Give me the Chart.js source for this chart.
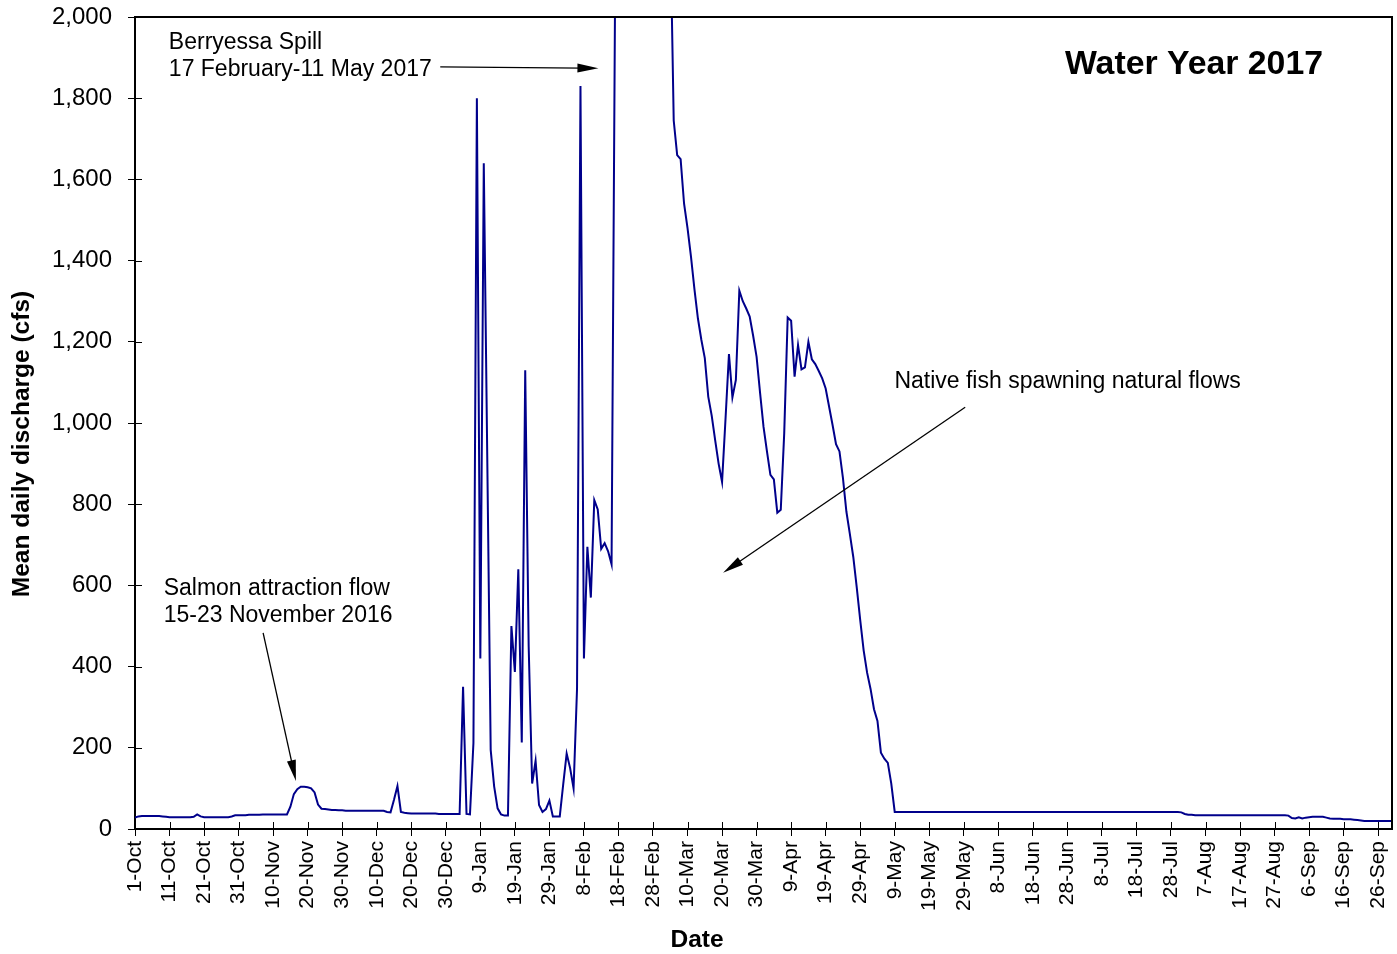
<!DOCTYPE html>
<html>
<head>
<meta charset="utf-8">
<title>Water Year 2017</title>
<script src="https://cdn.jsdelivr.net/npm/chart.js@4.4.1/dist/chart.umd.min.js"></script>
<style>
  html, body { margin: 0; padding: 0; background: #fff; }
  #wrap { width: 1397px; height: 954px; }
</style>
</head>
<body>
<div id="wrap"><canvas id="flowChart" width="1397" height="954"></canvas></div>
<script>
// Mean daily discharge (cfs), one value per day, water year 2017 (1 Oct 2016 - 30 Sep 2017)
// Values above 2,000 run off the top of the chart during the Berryessa spill.
const octFlow = [28, 31, 32, 32, 32, 32, 32, 32, 31, 30, 29, 29, 29, 29, 29, 29, 29, 30, 36, 31,
                 29, 29, 29, 29, 29, 29, 29, 29, 31, 34, 34];
const novFlow = [34, 34, 35, 35, 35, 35, 36, 36, 36, 36, 36, 36, 36, 36, 55, 86, 98, 104, 104, 103,
                 100, 90, 60, 50, 49, 48, 47, 47, 46, 46];
const decFlow = [45, 45, 45, 45, 45, 45, 45, 45, 45, 45, 45, 45, 42, 41, 72, 106, 42, 40, 39, 38,
                 38, 38, 38, 38, 38, 38, 38, 37, 37, 37, 37];
const janFlow = [37, 37, 37, 350, 37, 36, 211, 1800, 420, 1640, 920, 195, 105, 51, 36, 33, 33, 500, 387, 640,
                 213, 1130, 450, 112, 168, 59, 42, 49, 70, 31, 31];
const febFlow = [31, 110, 186, 150, 100, 345, 1830, 420, 695, 570, 810, 787, 690, 704, 684, 652, 2030, 4800, 9200, 14500,
                 17800, 19500, 16200, 12800, 10400, 8100, 6900, 5600];
const marFlow = [4700, 3900, 3200, 2700, 2230, 1745, 1660, 1650, 1540, 1480, 1410, 1330, 1258, 1205, 1160, 1065, 1018, 958, 900, 855,
                 1010, 1170, 1063, 1106, 1326, 1300, 1282, 1262, 1215, 1163, 1075];
const aprFlow = [991, 930, 872, 861, 779, 786, 975, 1260, 1252, 1114, 1192, 1132, 1137, 1200, 1157, 1145, 1128, 1110, 1085, 1040,
                 995, 948, 930, 865, 782, 727, 670, 595, 515, 440];
const mayFlow = [385, 345, 295, 266, 188, 173, 163, 112, 42, 42, 42, 42, 42, 42, 42, 42, 42, 42, 42, 42,
                 42, 42, 42, 42, 42, 42, 42, 42, 42, 42, 42];
const junFlow = [42, 42, 42, 42, 42, 42, 42, 42, 42, 42, 42, 42, 42, 42, 42, 42, 42, 42, 42, 42,
                 42, 42, 42, 42, 42, 42, 42, 42, 42, 42];
const julFlow = [42, 42, 42, 42, 42, 42, 42, 42, 42, 42, 42, 42, 42, 42, 42, 42, 42, 42, 42, 42,
                 42, 42, 42, 42, 42, 42, 42, 42, 42, 42, 41];
const augFlow = [37, 35, 35, 34, 34, 34, 34, 34, 34, 34, 34, 34, 34, 34, 34, 34, 34, 34, 34, 34,
                 34, 34, 34, 34, 34, 34, 34, 34, 34, 34, 33];
const sepFlow = [27, 26, 29, 26, 28, 29, 30, 30, 30, 30, 28, 26, 25, 25, 25, 24, 24, 24, 23, 22,
                 21, 20, 20, 20, 20, 20, 20, 20, 20, 20];

const flow = [].concat(octFlow, novFlow, decFlow, janFlow, febFlow, marFlow,
                       aprFlow, mayFlow, junFlow, julFlow, augFlow, sepFlow);

// x ticks every 10 days from 1 Oct
const tickDays = [0, 10, 20, 30, 40, 50, 60, 70, 80, 90, 100, 110, 120, 130, 140, 150, 160, 170, 180,
                  190, 200, 210, 220, 230, 240, 250, 260, 270, 280, 290, 300, 310, 320, 330, 340, 350, 360];
const tickLabels = ['1-Oct', '11-Oct', '21-Oct', '31-Oct', '10-Nov', '20-Nov', '30-Nov', '10-Dec', '20-Dec',
                    '30-Dec', '9-Jan', '19-Jan', '29-Jan', '8-Feb', '18-Feb', '28-Feb', '10-Mar', '20-Mar',
                    '30-Mar', '9-Apr', '19-Apr', '29-Apr', '9-May', '19-May', '29-May', '8-Jun', '18-Jun',
                    '28-Jun', '8-Jul', '18-Jul', '28-Jul', '7-Aug', '17-Aug', '27-Aug', '6-Sep', '16-Sep', '26-Sep'];
const yTicks = [0, 200, 400, 600, 800, 1000, 1200, 1400, 1600, 1800, 2000];

const FONT = '"Liberation Sans", Arial, Helvetica, sans-serif';
Chart.defaults.font.family = FONT;
Chart.defaults.color = '#000';

// annotation anchors are given in chart units (day, cfs)
const notes = [
    { lines: ['Berryessa Spill', '17 February-11 May 2017'], day: 9.8, cfs: 1938 },
    { lines: ['Salmon attraction flow', '15-23 November 2016'], day: 8.3, cfs: 592 },
    { lines: ['Native fish spawning natural flows'], day: 219.9, cfs: 1101 }
];
const arrows = [
    { from: [88.4, 1877], to: [134.2, 1874] },
    { from: [37.1, 483], to: [46.6, 118] },
    { from: [240.4, 1039], to: [170.3, 631] }
];

function drawArrow(ctx, x1, y1, x2, y2) {
    const ang = Math.atan2(y2 - y1, x2 - x1);
    const len = 21, half = 4.5;
    ctx.beginPath();
    ctx.moveTo(x1, y1);
    ctx.lineTo(x2 - Math.cos(ang) * len * 0.8, y2 - Math.sin(ang) * len * 0.8);
    ctx.stroke();
    ctx.beginPath();
    ctx.moveTo(x2, y2);
    ctx.lineTo(x2 - Math.cos(ang) * len - Math.sin(ang) * half, y2 - Math.sin(ang) * len + Math.cos(ang) * half);
    ctx.lineTo(x2 - Math.cos(ang) * len + Math.sin(ang) * half, y2 - Math.sin(ang) * len - Math.cos(ang) * half);
    ctx.closePath();
    ctx.fill();
}

const framePlugin = {
    id: 'frame',
    afterDraw(chart) {
        const { ctx, chartArea: a, scales: { x, y } } = chart;
        ctx.save();
        ctx.strokeStyle = '#000';
        ctx.fillStyle = '#000';

        // top and right border of the plot box
        ctx.lineWidth = 2;
        ctx.beginPath();
        ctx.moveTo(a.left, a.top);
        ctx.lineTo(a.right, a.top);
        ctx.lineTo(a.right, a.bottom);
        ctx.stroke();

        // inner half of the tick marks
        ctx.lineWidth = 1;
        ctx.beginPath();
        x.ticks.forEach(t => {
            const px = Math.round(x.getPixelForValue(t.value)) + 0.5;
            ctx.moveTo(px, a.bottom);
            ctx.lineTo(px, a.bottom - 7);
        });
        y.ticks.forEach(t => {
            const py = Math.round(y.getPixelForValue(t.value)) + 0.5;
            ctx.moveTo(a.left, py);
            ctx.lineTo(a.left + 7, py);
        });
        ctx.stroke();

        // annotations
        ctx.font = '23px ' + FONT;
        ctx.textBaseline = 'middle';
        ctx.textAlign = 'left';
        notes.forEach(n => {
            const px = x.getPixelForValue(n.day);
            const py = y.getPixelForValue(n.cfs);
            n.lines.forEach((s, i) => ctx.fillText(s, px, py + i * 27));
        });
        ctx.lineWidth = 1.3;
        arrows.forEach(ar => {
            drawArrow(ctx,
                x.getPixelForValue(ar.from[0]), y.getPixelForValue(ar.from[1]),
                x.getPixelForValue(ar.to[0]), y.getPixelForValue(ar.to[1]));
        });

        // chart title inside the plot
        ctx.font = 'bold 33.8px ' + FONT;
        ctx.fillText('Water Year 2017', x.getPixelForValue(269.3), y.getPixelForValue(1882));

        // axis titles
        ctx.font = 'bold 24.5px ' + FONT;
        ctx.textAlign = 'center';
        ctx.fillText('Date', 697, 940);
        ctx.translate(22, 444);
        ctx.rotate(-Math.PI / 2);
        ctx.fillText('Mean daily discharge (cfs)', 0, 0);
        ctx.restore();
    }
};

// keep the plot box fixed: no extra room for overhanging tick labels
function fixPadding(axis) {
    axis.paddingTop = 0;
    axis.paddingBottom = 0;
    axis.paddingLeft = 0;
    axis.paddingRight = 0;
}

const ctx = document.getElementById('flowChart').getContext('2d');
const flowChart = new Chart(ctx, {
    type: 'line',
    data: {
        datasets: [{
            label: 'Mean daily discharge',
            data: flow.map((v, i) => ({ x: i, y: v })),
            borderColor: '#00008b',
            borderWidth: 2,
            pointRadius: 0,
            fill: false,
            tension: 0
        }]
    },
    options: {
        responsive: false,
        animation: false,
        layout: { padding: { left: 0, top: 17, right: 5, bottom: 0 } },
        scales: {
            x: {
                type: 'linear',
                min: 0,
                max: 364,
                afterBuildTicks: axis => { axis.ticks = tickDays.map(v => ({ value: v })); },
                afterFit: axis => { axis.height = 125; fixPadding(axis); },
                ticks: {
                    autoSkip: false,
                    minRotation: 90,
                    maxRotation: 90,
                    padding: 5,
                    font: { size: 21 },
                    color: '#000',
                    callback: (value, index) => tickLabels[index]
                },
                grid: { drawOnChartArea: false, drawTicks: true, tickLength: 7, color: '#000', lineWidth: 1 },
                border: { display: true, color: '#000', width: 2 }
            },
            y: {
                min: 0,
                max: 2000,
                afterBuildTicks: axis => { axis.ticks = yTicks.map(v => ({ value: v })); },
                afterFit: axis => { axis.width = 135; fixPadding(axis); },
                ticks: {
                    padding: 16,
                    font: { size: 24 },
                    color: '#000',
                    callback: value => value.toLocaleString('en-US')
                },
                grid: { drawOnChartArea: false, drawTicks: true, tickLength: 7, color: '#000', lineWidth: 1 },
                border: { display: true, color: '#000', width: 2 }
            }
        },
        plugins: {
            legend: { display: false },
            tooltip: { enabled: false }
        }
    },
    plugins: [framePlugin]
});
</script>
</body>
</html>
